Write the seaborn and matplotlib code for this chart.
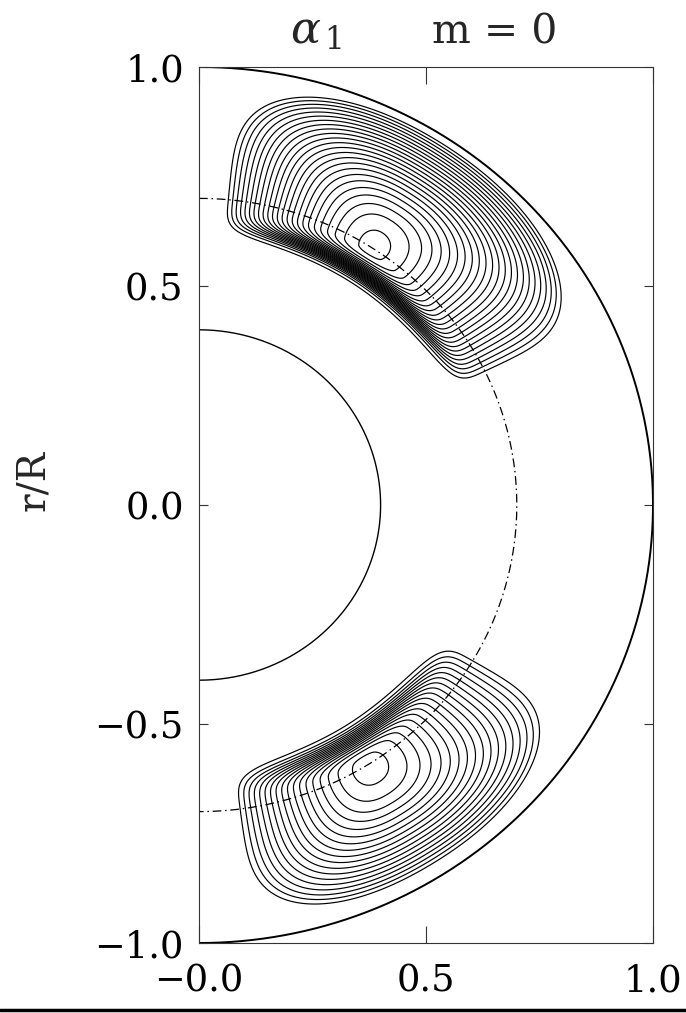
import numpy as np
import pandas as pd
import matplotlib
matplotlib.use('Agg')
import matplotlib.pyplot as plt
from matplotlib.lines import Line2D
import seaborn as sns

# --- style ---
sns.set_theme(style='ticks')
plt.rcParams['font.family'] = ['DejaVu Serif']
plt.rcParams['mathtext.fontset'] = 'dejavuserif'
plt.rcParams['axes.edgecolor'] = '#333333'
plt.rcParams['axes.linewidth'] = 0.8

# --- data ---
core_radius = 0.4       # inner solid circle
tacho_radius = 0.7      # dash-dot circle
surface_radius = 1.0    # outer solid circle

# two alpha lobes (north, south): peak and extent in (r, colatitude from nearest pole)
lobe_amp = [0.975, 0.74]
lobe_r0 = [0.69, 0.685]
lobe_w_in = [0.11, 0.11]       # radial scale below the peak
lobe_w_out = [0.30, 0.29]      # radial extent above the peak
lobe_edge_r = [0.632, 0.622]   # steep inner edge (dense band)
lobe_edge_w = [0.022, 0.03]
lobe_th0 = [33.0, 32.0]        # deg
lobe_w_pole = [28.5, 25.5]     # angular extent towards the pole
lobe_w_eq = [32.0, 28.5]       # angular extent towards the equator
contour_step = 0.04
n_levels = 24

xtick_vals = [0.0, 0.5, 1.0]
xtick_labels = ['\u22120.0', '0.5', '1.0']
ytick_vals = [-1.0, -0.5, 0.0, 0.5, 1.0]
ytick_labels = ['\u22121.0', '\u22120.5', '0.0', '0.5', '1.0']


def lobe(r, th, i):
    a = np.where(r < lobe_r0[i], (lobe_r0[i] - r) / lobe_w_in[i],
                 (np.clip(r - lobe_r0[i], 0, None) / lobe_w_out[i]) ** 1.3)
    b = np.where(th < lobe_th0[i], (lobe_th0[i] - th) / lobe_w_pole[i], (th - lobe_th0[i]) / lobe_w_eq[i])
    # rounder near the peak, boxier towards the edge
    q = 2.0 + 1.2 * np.clip(np.hypot(a, b), 0, 1)
    d = (a ** q + b ** q) ** (1 / q)
    e = 0.55
    F = np.clip(1 - (np.sqrt(d ** 2 + e ** 2) - e) / (np.sqrt(1 + e ** 2) - e), 0, None)
    S = 0.5 * (1 + np.tanh((r - lobe_edge_r[i]) / lobe_edge_w[i]))
    return lobe_amp[i] * F * S


# polar grid of the meridional half plane
rr, tt = np.meshgrid(np.linspace(core_radius, surface_radius, 500), np.linspace(0, 180, 800))
X = rr * np.sin(np.radians(tt))
Y = rr * np.cos(np.radians(tt))
Z = lobe(rr, tt, 0) + lobe(rr, 180 - tt, 1)
levels = contour_step * np.arange(1, n_levels + 1)

fig = plt.figure(figsize=(6.86, 10.13), dpi=100)
ax = fig.add_axes([199 / 686, 70 / 1013, 454 / 686, 876 / 1013])

ax.contour(X, Y, Z, levels=levels, colors='black', linewidths=0.85)

# shells
phi = np.linspace(0, np.pi, 400)
for rad, lw, dash in [(surface_radius, 1.4, None), (core_radius, 1.0, None), (tacho_radius, 0.9, [7, 3, 1.2, 3])]:
    df = pd.DataFrame({'x': rad * np.sin(phi), 'y': rad * np.cos(phi)})
    sns.lineplot(data=df, x='x', y='y', sort=False, estimator=None, color='black', linewidth=lw, ax=ax)
    if dash is not None:
        ax.get_lines()[-1].set_dashes(dash)

ax.set_xlim(0, 1)
ax.set_ylim(-1, 1)
ax.set_xticks(xtick_vals)
ax.set_xticklabels(xtick_labels)
ax.set_yticks(ytick_vals)
ax.set_yticklabels(ytick_labels)
ax.set_xlabel('')
ax.set_ylabel('')
ax.tick_params(direction='in', width=0.8, top=True, right=True, labelsize=26.5,
               color='#333333', labelcolor='black')
ax.tick_params(axis='x', length=12, pad=15)
ax.tick_params(axis='y', length=6.5, pad=11)

# title and y label
fig.text(316 / 686, 1 - 43 / 1013, r'$\alpha_{\,1}$', fontsize=32, ha='center', va='baseline')
fig.text(495 / 686, 1 - 43 / 1013, 'm = 0', fontsize=29.5, ha='center', va='baseline')
fig.text(34 / 686, 1 - 480 / 1013, 'r/R', fontsize=28, rotation=90, ha='center', va='center')

# page rule at the very bottom
fig.add_artist(Line2D([0, 1], [0.003, 0.003], transform=fig.transFigure, color='black', linewidth=2.5))

fig.savefig('out.png', dpi=100, facecolor='white')
